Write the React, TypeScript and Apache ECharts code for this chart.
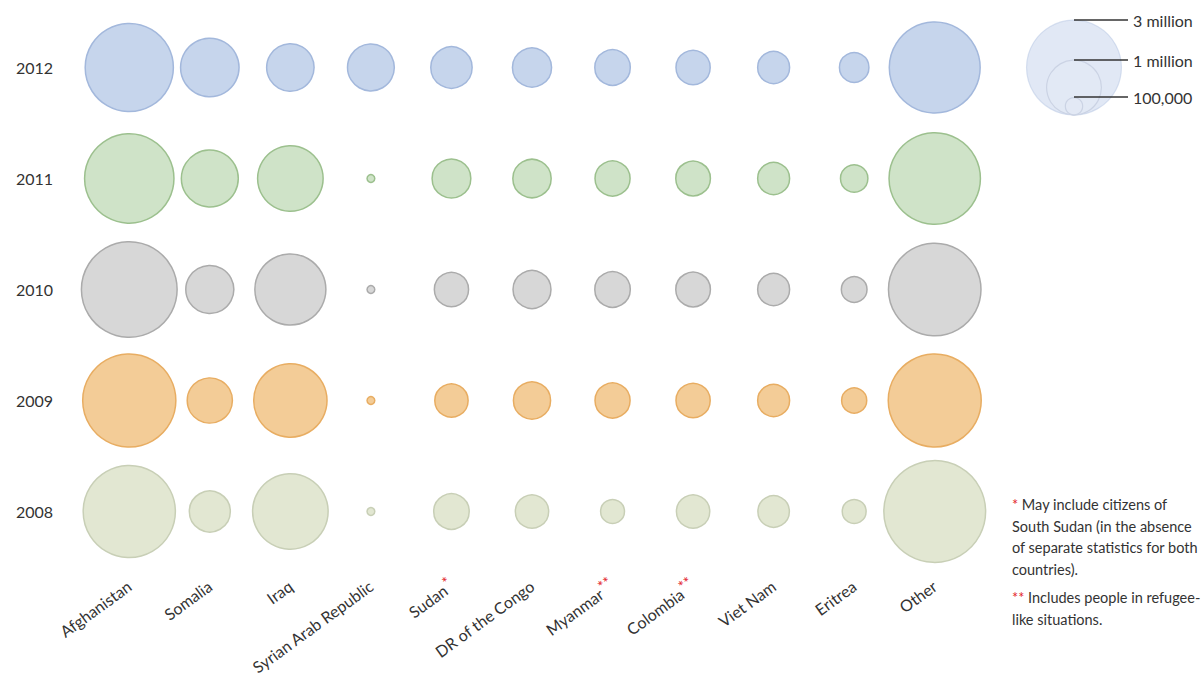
import React, { useEffect, useRef } from "react";
import * as echarts from "echarts";

const countries = [
  "Afghanistan", "Somalia", "Iraq", "Syrian Arab Republic", "Sudan",
  "DR of the Congo", "Myanmar", "Colombia", "Viet Nam", "Eritrea", "Other",
];
const starMarks: Record<string, string> = { Sudan: "*", Myanmar: "**", Colombia: "**" };
const years = ["2008", "2009", "2010", "2011", "2012"];

// refugees, millions
const v2012 = [2.59, 1.14, 0.75, 0.73, 0.57, 0.51, 0.42, 0.39, 0.34, 0.29, 2.75];
const v2011 = [2.66, 1.08, 1.43, 0.02, 0.5, 0.49, 0.41, 0.4, 0.34, 0.25, 2.78];
const v2010 = [3.05, 0.77, 1.68, 0.02, 0.39, 0.48, 0.42, 0.4, 0.34, 0.22, 2.85];
const v2009 = [2.89, 0.68, 1.79, 0.02, 0.37, 0.46, 0.41, 0.39, 0.34, 0.21, 2.88];
const v2008 = [2.83, 0.56, 1.9, 0.02, 0.42, 0.37, 0.19, 0.37, 0.33, 0.19, 3.45];

const legendValues = [3, 1, 0.1];
const legendLabels = ["3 million", "1 million", "100,000"];

const footnote1 = "{r|*} May include citizens of\nSouth Sudan (in the absence\nof separate statistics for both\ncountries).";
const footnote2 = "{r|**} Includes people in refugee-\nlike situations.";

const K = 27.4; // px radius per sqrt(million)
const radius = (v: number) => K * Math.sqrt(v);

const FONT = "Lato";

export default function App() {
  const ref = useRef<HTMLDivElement>(null);
  useEffect(() => {
    if (!ref.current) return;
    const chart = echarts.init(ref.current, null, { renderer: "svg" });
    const rows = [
      { year: "2012", vals: v2012, fill: "#c6d5ec", stroke: "#a3b8dc" },
      { year: "2011", vals: v2011, fill: "#cfe3c8", stroke: "#9cc08e" },
      { year: "2010", vals: v2010, fill: "#d7d7d7", stroke: "#ababab" },
      { year: "2009", vals: v2009, fill: "#f3cc97", stroke: "#e8ad62" },
      { year: "2008", vals: v2008, fill: "#e2e7d2", stroke: "#c8cfb6" },
    ];

    const lcx = 1074;
    const lbottom = 115;
    const lineY = [20, 60, 97];
    const legendGraphics: any[] = [];
    legendValues.forEach((v, i) => {
      const r = radius(v);
      legendGraphics.push({
        type: "circle",
        shape: { cx: lcx, cy: lbottom - r, r },
        style: {
          fill: i === 0 ? "rgba(200,214,236,0.55)" : "rgba(228,234,245,0.3)",
          stroke: i === 0 ? "rgba(175,192,224,0.45)" : "#cbd3e4",
          lineWidth: 1.2,
        },
        z: 10 + i,
      });
    });
    legendValues.forEach((v, i) => {
      legendGraphics.push({
        type: "line",
        shape: { x1: lcx, y1: lineY[i], x2: 1128, y2: lineY[i] },
        style: { stroke: "#333", lineWidth: 1.5 },
        z: 20,
      });
      legendGraphics.push({
        type: "text",
        x: 1133,
        y: lineY[i],
        style: {
          text: legendLabels[i],
          fill: "#333",
          font: `16px ${FONT}`,
          verticalAlign: "middle",
          align: "left",
        },
        z: 20,
      });
    });

    const starStyle = { fill: "#e3242b", color: "#e3242b", fontSize: 14.5, fontFamily: FONT, lineHeight: 21.5 };

    chart.setOption({
      animation: false,
      grid: { left: 89, right: 228, top: 12, bottom: 112, containLabel: false },
      xAxis: {
        type: "category",
        data: countries,
        axisLine: { show: false },
        axisTick: { show: false },
        splitLine: { show: false },
        axisLabel: {
          interval: 0,
          rotate: 36,
          margin: 17,
          color: "#333",
          fontSize: 16,
          fontFamily: FONT,
          formatter: (v: string) => (starMarks[v] ? `${v}{s|${starMarks[v]}}` : v),
          rich: {
            s: { color: "#e3242b", fontSize: 15, fontFamily: FONT, padding: [0, 0, 10, 1] },
          },
        },
      },
      yAxis: {
        type: "category",
        data: years,
        axisLine: { show: false },
        axisTick: { show: false },
        splitLine: { show: false },
        axisLabel: {
          margin: 36,
          color: "#333",
          fontSize: 16,
          fontFamily: FONT,
          padding: [14, 0, 0, 0],
        },
      },
      series: rows.map((row) => ({
        type: "scatter",
        name: row.year,
        data: row.vals.map((v, i) => [countries[i], row.year, v]),
        symbol: "circle",
        symbolSize: (d: any) => 2 * radius(d[2]),
        itemStyle: { color: row.fill, borderColor: row.stroke, borderWidth: 1.5, opacity: 1 },
        emphasis: { disabled: true },
      })),
      graphic: [
        ...legendGraphics,
        {
          type: "text",
          x: 1012,
          y: 494,
          style: {
            text: footnote1,
            fill: "#333",
            font: `14.5px ${FONT}`,
            lineHeight: 21.5,
            rich: { r: starStyle },
          },
        },
        {
          type: "text",
          x: 1012,
          y: 587,
          style: {
            text: footnote2,
            fill: "#333",
            font: `14.5px ${FONT}`,
            lineHeight: 21.5,
            rich: { r: starStyle },
          },
        },
      ],
    });
    return () => chart.dispose();
  }, []);
  return (
    <div
      ref={ref}
      style={{ position: "absolute", left: 0, top: 0, width: 1203, height: 679, background: "#fff" }}
    />
  );
}
